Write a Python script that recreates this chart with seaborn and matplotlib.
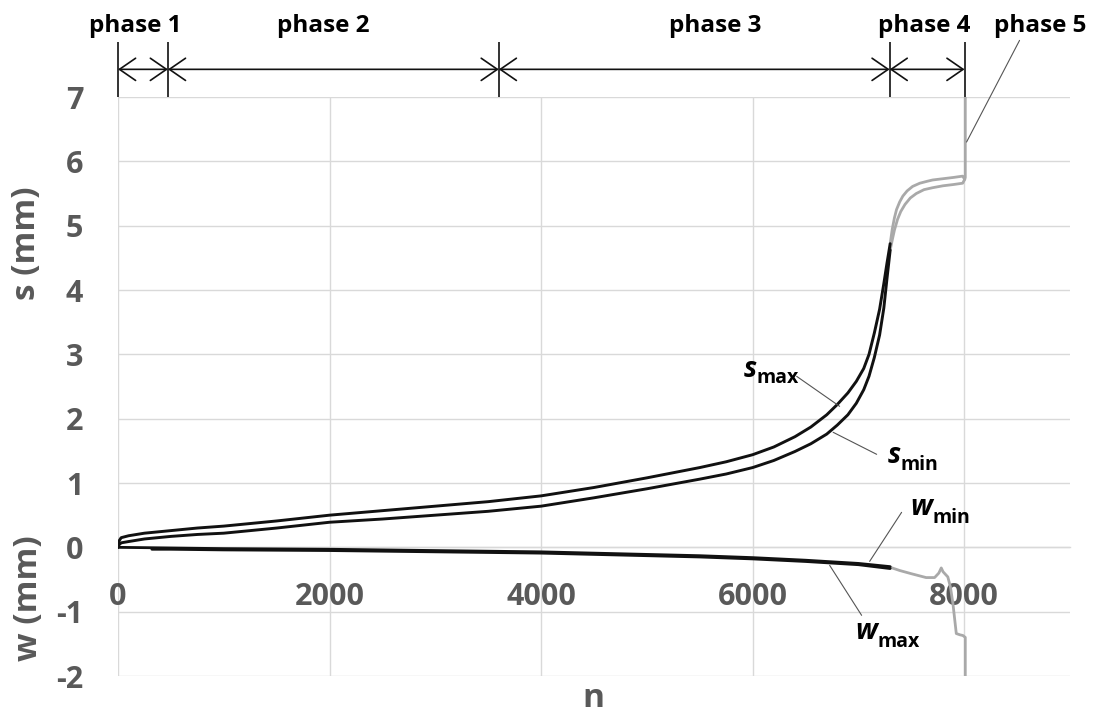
import numpy as np
import matplotlib
matplotlib.use("Agg")
import matplotlib.pyplot as plt
import seaborn as sns

# ---- data -------------------------------------------------------------
# settlement s (mm), loading phases 1-3 (black)
n_s = [0, 10, 30, 100, 250, 500, 750, 1000, 1500, 2000, 2500, 3000, 3500,
       4000, 4500, 5000, 5500, 5750, 6000, 6200, 6400, 6550, 6700, 6800, 6900,
       6980, 7050, 7100, 7150, 7200, 7240, 7270, 7300]
s_max = [0.0, 0.10, 0.15, 0.18, 0.22, 0.26, 0.30, 0.33, 0.41, 0.50, 0.57,
         0.64, 0.71, 0.80, 0.93, 1.08, 1.24, 1.33, 1.44, 1.56, 1.72, 1.87,
         2.06, 2.22, 2.40, 2.58, 2.78, 3.00, 3.33, 3.70, 4.10, 4.42, 4.72]
s_min = [0.0, 0.04, 0.07, 0.09, 0.13, 0.17, 0.20, 0.22, 0.30, 0.39, 0.44,
         0.50, 0.56, 0.64, 0.77, 0.91, 1.06, 1.14, 1.24, 1.35, 1.49, 1.61,
         1.76, 1.90, 2.06, 2.24, 2.45, 2.66, 2.95, 3.30, 3.72, 4.18, 4.62]

# settlement s (mm), phases 4-5 (grey)
n_s_max_end = [7300, 7320, 7340, 7360, 7390, 7420, 7460, 7512, 7580, 7650,
               7701, 7800, 7900, 7985, 8005, 8010, 8010]
s_max_end = [4.72, 4.95, 5.12, 5.25, 5.37, 5.46, 5.54, 5.61, 5.66, 5.69,
             5.71, 5.73, 5.75, 5.77, 5.72, 5.75, 7.0]
n_s_min_end = [7300, 7320, 7340, 7370, 7400, 7440, 7490, 7547, 7620, 7701,
               7800, 7900, 7985, 8005]
s_min_end = [4.62, 4.78, 4.93, 5.10, 5.22, 5.33, 5.43, 5.50, 5.56, 5.59,
             5.62, 5.64, 5.66, 5.72]

# heave w (mm), phases 1-3 (black)
n_w_min = [0, 500, 1000, 2000, 3000, 4000, 4500, 5000, 5500, 6000, 6500, 7000, 7300]
w_min = [0.0, -0.01, -0.02, -0.03, -0.05, -0.07, -0.09, -0.11, -0.13, -0.16,
         -0.20, -0.25, -0.30]
n_w_max = [320, 500, 1000, 2000, 3000, 4000, 4500, 5000, 5500, 6000, 6500, 7000, 7300]
w_max = [-0.03, -0.03, -0.04, -0.05, -0.07, -0.09, -0.11, -0.13, -0.15, -0.18,
         -0.22, -0.27, -0.33]

# heave w (mm), phases 4-5 (grey)
n_w_end = [7300, 7390, 7500, 7640, 7720, 7760, 7783, 7800, 7845, 7870, 7893,
           7925, 7960, 7987, 7995, 8010, 8010]
w_end = [-0.31, -0.36, -0.41, -0.47, -0.47, -0.40, -0.32, -0.38, -0.46, -0.62,
         -0.87, -1.34, -1.36, -1.37, -1.38, -1.40, -2.0]

# phase boundaries (load cycles n) and labels
phase_bounds = [0, 472, 3600, 7295, 8003]
phase_labels = ["phase 1", "phase 2", "phase 3", "phase 4", "phase 5"]
phase_label_n = [165, 1937, 5641, 7626, 8722]

x_ticks = [0, 2000, 4000, 6000, 8000]
y_ticks = [-2, -1, 0, 1, 2, 3, 4, 5, 6, 7]

# ---- style ------------------------------------------------------------
sns.set_theme(style="white")
plt.rcParams["font.family"] = ["Open Sans", "DejaVu Sans"]
plt.rcParams["font.weight"] = "bold"

TXT = "#595959"
GRID = "#d9d9d9"
BLACK = "#111111"
GREY = "#a9a9a9"

fig = plt.figure(figsize=(10.99, 7.17), dpi=100)
ax = fig.add_axes([0.10737, 0.05718, 0.86624, 0.80753])

# ---- curves -----------------------------------------------------------
kw = dict(ax=ax, sort=False, estimator=None, legend=False)
sns.lineplot(x=n_s_max_end, y=s_max_end, color=GREY, lw=2.0, **kw)
sns.lineplot(x=n_s_min_end, y=s_min_end, color=GREY, lw=2.0, **kw)
sns.lineplot(x=n_w_end, y=w_end, color=GREY, lw=2.0, **kw)
sns.lineplot(x=n_s, y=s_max, color=BLACK, lw=2.1, **kw)
sns.lineplot(x=n_s, y=s_min, color=BLACK, lw=2.1, **kw)
sns.lineplot(x=n_w_min, y=w_min, color=BLACK, lw=2.0, **kw)
sns.lineplot(x=n_w_max, y=w_max, color=BLACK, lw=2.0, **kw)
for line in ax.get_lines():
    line.set_solid_joinstyle("round")

# ---- axes -------------------------------------------------------------
ax.set_xlim(0, 9000)
ax.set_ylim(-2, 7)
ax.set_xticks(x_ticks)
ax.set_yticks(y_ticks)
ax.set_xticklabels([str(v) for v in x_ticks])
ax.set_yticklabels([str(v) for v in y_ticks])
ax.grid(True, color=GRID, lw=1.0)
ax.set_axisbelow(True)
for side in ["top", "right", "left"]:
    ax.spines[side].set_visible(False)
ax.spines["bottom"].set_position(("data", 0))
ax.spines["bottom"].set_color(GRID)
ax.spines["bottom"].set_linewidth(1.0)
ax.spines["bottom"].set_zorder(0.5)
ax.tick_params(axis="x", length=0, pad=25, labelsize=22, labelcolor=TXT)
ax.tick_params(axis="y", length=0, pad=25, labelsize=22, labelcolor=TXT)
for lab in ax.get_xticklabels() + ax.get_yticklabels():
    lab.set_fontweight("bold")
ax.set_xlabel("")
ax.set_ylabel("")

fig.text(27 / 1099, 1 - 243 / 717, "s (mm)", rotation=90, ha="center", va="center",
         fontsize=24, fontweight="bold", color=TXT)
fig.text(28 / 1099, 1 - 598 / 717, "w (mm)", rotation=90, ha="center", va="center",
         fontsize=24, fontweight="bold", color=TXT)
fig.text(593 / 1099, 2 / 717, "n", ha="center", va="bottom",
         fontsize=24, fontweight="bold", color=TXT)

# ---- phase markers above the plot ------------------------------------
y_arrow = 7.43
for b in phase_bounds:
    ax.plot([b, b], [7.0, 7.85], color=BLACK, lw=1.2, clip_on=False,
            solid_capstyle="butt")
for a, b in zip(phase_bounds[:-1], phase_bounds[1:]):
    ax.annotate("", xy=(b, y_arrow), xytext=(a, y_arrow), annotation_clip=False,
                arrowprops=dict(arrowstyle="<->,head_length=0.58,head_width=0.4",
                                color=BLACK, lw=1.2, shrinkA=0, shrinkB=0,
                                mutation_scale=20))
for lab, xn in zip(phase_labels, phase_label_n):
    ax.text(xn, 8.11, lab, ha="center", va="center", fontsize=17.5,
            fontweight="bold", color="black", clip_on=False)

# ---- curve labels with leader lines ----------------------------------
LEAD = "#555555"


def leader(p0, p1):
    ax.annotate("", xy=p1, xytext=p0, annotation_clip=False,
                arrowprops=dict(arrowstyle="-", color=LEAD, lw=0.8,
                                shrinkA=0, shrinkB=0))


def sublabel(xn, y_main, y_sub, letter, sub):
    ax.text(xn, y_main, letter, ha="right", va="baseline", fontsize=20,
            fontweight="bold", fontstyle="italic", color="black")
    ax.text(xn, y_sub, sub, ha="left", va="baseline", fontsize=14,
            fontweight="bold", color="black")


sublabel(6038, 2.643, 2.549, "s", "max")
leader((6416, 2.658), (6822, 2.192))
sublabel(7398, 1.306, 1.197, "s", "min")
leader((7172, 1.446), (6761, 1.788))
sublabel(7701, 0.497, 0.373, "w", "min")
leader((7408, 0.544), (7106, -0.218))
sublabel(7181, -1.43, -1.554, "w", "max")
leader((7030, -1.057), (6728, -0.280))
leader((8523, 7.88), (8022, 6.30))

fig.savefig("out.png", dpi=100)
